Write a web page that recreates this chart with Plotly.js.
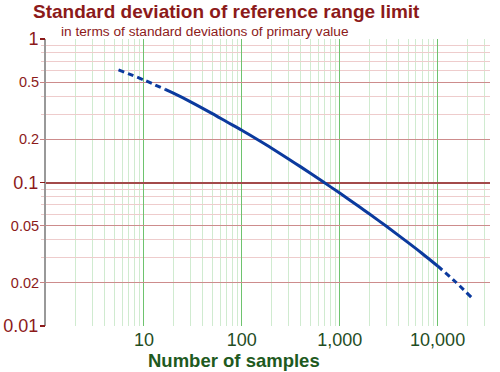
<!DOCTYPE html>
<html>
<head>
<meta charset="utf-8">
<script src="https://cdn.plot.ly/plotly-3.0.1.min.js"></script>
<style>
  html, body { margin: 0; padding: 0; background: #ffffff; }
  #chart { width: 500px; height: 372px; }
</style>
</head>
<body>
<div id="chart"></div>
<script>
// ---- data ----
const samplesDashStart = [5.5, 7, 10, 16.5];
const sdDashStart      = [0.609, 0.572, 0.518, 0.445];

const samplesSolid = [16.5, 20, 30, 50, 70, 100, 150, 200, 300, 400, 665, 1000, 1600, 2000, 3000, 5000, 7000, 10000];
const sdSolid      = [0.445, 0.419, 0.365, 0.302, 0.265, 0.231, 0.196, 0.174, 0.146, 0.1285, 0.1019, 0.0844, 0.0674, 0.0605, 0.0495, 0.0381, 0.0319, 0.0262];

const samplesDashEnd = [10000, 15000, 22000];
const sdDashEnd      = [0.0262, 0.0205, 0.0159];

const xTickVals  = [10, 100, 1000, 10000];
const xTickText  = ['10', '100', '1,000', '10,000'];
const yMajorVals = [0.01, 0.1, 1];
const yMajorText = ['0.01', '0.1', '1'];
const yMidVals   = [0.02, 0.05, 0.2, 0.5];
const yMidText   = ['0.02', '0.05', '0.2', '0.5'];

const titleText    = 'Standard deviation of reference range limit';
const subtitleText = 'in terms of standard deviations of primary value';
const xTitleText   = 'Number of samples';

// minor grid positions (axis configuration)
const xMinor = [];
for (let d = 1; d <= 10000; d *= 10) for (let k = 2; k <= 9; k++) xMinor.push(k * d);
const yMinor = [];
[0.01, 0.1].forEach(d => { for (let k = 3; k <= 9; k++) if (k !== 5) yMinor.push(k * d); });

const FONT = 'Liberation Sans, Arial, sans-serif';
const RED = '#8c1a1a';
const GREEN = '#1f4d1f';
const BLUE = '#0b3a9e';

const traces = [
  // carriers for the grid axes
  { x: [], y: [], xaxis: 'x', yaxis: 'y', mode: 'lines', hoverinfo: 'skip' },
  { x: [], y: [], xaxis: 'x2', yaxis: 'y2', mode: 'lines', hoverinfo: 'skip' },
  // the curve
  { x: samplesDashStart, y: sdDashStart, xaxis: 'x2', yaxis: 'y3', mode: 'lines',
    line: { color: BLUE, width: 3, dash: '6px,4px', shape: 'spline', smoothing: 0.8 }, hoverinfo: 'skip' },
  { x: samplesSolid, y: sdSolid, xaxis: 'x2', yaxis: 'y3', mode: 'lines',
    line: { color: BLUE, width: 3, shape: 'spline', smoothing: 0.8 }, hoverinfo: 'skip' },
  { x: samplesDashEnd, y: sdDashEnd, xaxis: 'x2', yaxis: 'y3', mode: 'lines',
    line: { color: BLUE, width: 3, dash: '6px,4px', shape: 'spline', smoothing: 0.8 }, hoverinfo: 'skip' }
];

const XR = [0, 4.535], YR = [-2, 0];

const layout = {
  width: 500, height: 372,
  margin: { l: 46, r: 10, t: 39, b: 46, pad: 0 },
  paper_bgcolor: '#ffffff', plot_bgcolor: '#ffffff',
  showlegend: false,
  font: { family: FONT },
  title: {
    text: '<b>' + titleText + '</b>',
    font: { family: FONT, size: 19, color: RED },
    xref: 'container', yref: 'container', x: 33 / 500, xanchor: 'left', y: 1 - 11.5 / 372, yanchor: 'middle'
  },
  // light minor grid (base)
  xaxis: {
    type: 'log', range: XR, fixedrange: true,
    tickmode: 'array', tickvals: xMinor, showticklabels: false, ticks: '',
    showgrid: true, gridcolor: 'rgb(208,235,208)', gridwidth: 1,
    showline: false, zeroline: false
  },
  yaxis: {
    type: 'log', range: YR, fixedrange: true,
    tickmode: 'array', tickvals: yMinor, showticklabels: false,
    ticks: 'outside', ticklen: 3, tickcolor: 'rgb(236,200,200)',
    showgrid: true, gridcolor: 'rgb(238,204,204)', gridwidth: 1,
    showline: true, linecolor: '#999999', linewidth: 2, zeroline: false
  },
  // labelled grid
  xaxis2: {
    type: 'log', range: XR, fixedrange: true, overlaying: 'x', side: 'bottom', anchor: 'y',
    tickmode: 'array', tickvals: xTickVals, ticktext: xTickText,
    tickfont: { family: FONT, size: 18, color: GREEN },
    ticks: '', ticklabelstandoff: 1,
    showgrid: true, gridcolor: 'rgb(110,195,110)', gridwidth: 1,
    showline: false, zeroline: false
  },
  yaxis2: {
    type: 'log', range: YR, fixedrange: true, overlaying: 'y', side: 'left', anchor: 'x',
    tickmode: 'array', tickvals: yMidVals, ticktext: yMidText,
    tickfont: { family: FONT, size: 14.5, color: RED },
    ticks: 'outside', ticklen: 5, tickcolor: 'rgb(200,130,130)', tickwidth: 1, ticklabelstandoff: -2,
    showgrid: true, gridcolor: 'rgb(205,140,140)', gridwidth: 1,
    showline: false, zeroline: false
  },
  yaxis3: {
    type: 'log', range: YR, fixedrange: true, overlaying: 'y', side: 'left', anchor: 'x',
    tickmode: 'array', tickvals: yMajorVals, ticktext: yMajorText,
    tickfont: { family: FONT, size: 18, color: RED },
    ticks: 'outside', ticklen: 5, tickcolor: RED, tickwidth: 1.5, ticklabelstandoff: -2,
    showgrid: true, gridcolor: '#a34a4a', gridwidth: 2,
    showline: false, zeroline: false
  },
  annotations: [
    { text: subtitleText, xref: 'paper', yref: 'paper', x: (59 - 46) / 444, y: 1 + (39 - 31) / 287,
      xanchor: 'left', yanchor: 'middle', showarrow: false,
      font: { family: FONT, size: 13.7, color: RED } },
    { text: '<b>' + xTitleText + '</b>', xref: 'paper', yref: 'paper', x: (146 - 46) / 444, y: -(360 - 326) / 287,
      xanchor: 'left', yanchor: 'middle', showarrow: false,
      font: { family: FONT, size: 18.5, color: '#1e5a1e' } }
  ]
};

Plotly.newPlot('chart', traces, layout, { staticPlot: true, displayModeBar: false });
</script>
</body>
</html>
